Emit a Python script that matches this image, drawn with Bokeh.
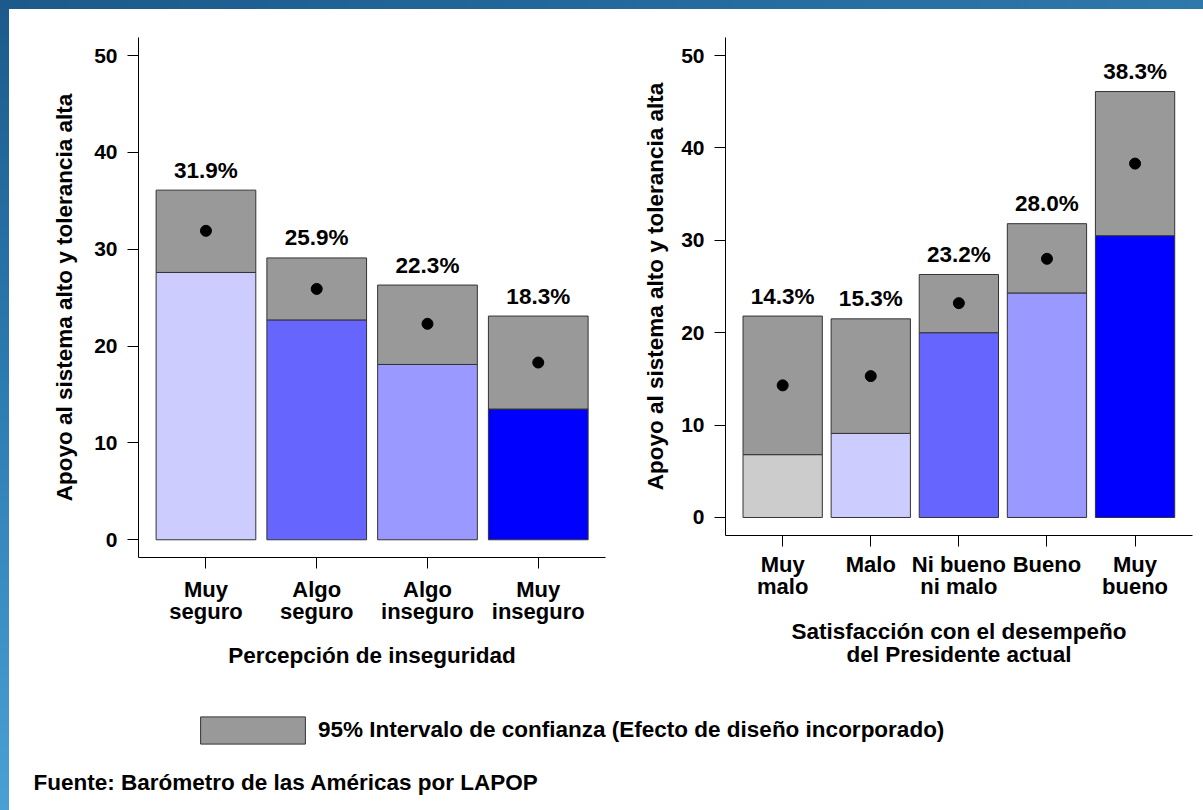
from bokeh.plotting import figure
from bokeh.layouts import column, row
from bokeh.models import Range1d, FixedTicker, Legend, LegendItem, Label, ColumnDataSource, Spacer
from bokeh.core.properties import value
from bokeh.embed import file_html
from bokeh.resources import INLINE

FONT = "Liberation Sans"

# ---- data: left panel ----
cats_left = ["Muy seguro", "Algo seguro", "Algo inseguro", "Muy inseguro"]
ticks_left = ["Muy\nseguro", "Algo\nseguro", "Algo\ninseguro", "Muy\ninseguro"]
mean_left = [31.9, 25.9, 22.3, 18.3]
lo_left = [27.6, 22.7, 18.1, 13.5]
hi_left = [36.1, 29.1, 26.3, 23.1]
colors_left = ["#CCCCFF", "#6666FF", "#9999FF", "#0000FF"]
xlabel_left = "Percepción de inseguridad"

# ---- data: right panel ----
cats_right = ["Muy malo", "Malo", "Ni bueno ni malo", "Bueno", "Muy bueno"]
ticks_right = ["Muy\nmalo", "Malo", "Ni bueno\nni malo", "Bueno", "Muy\nbueno"]
mean_right = [14.3, 15.3, 23.2, 28.0, 38.3]
lo_right = [6.8, 9.1, 20.0, 24.3, 30.5]
hi_right = [21.8, 21.5, 26.3, 31.8, 46.1]
colors_right = ["#CCCCCC", "#CCCCFF", "#6666FF", "#9999FF", "#0000FF"]
xlabel_right = "Satisfacción con el desempeño\ndel Presidente actual"

y_ticks = [0, 10, 20, 30, 40, 50]
ylabel = "Apoyo al sistema alto y tolerancia alta"
legend_label = "95% Intervalo de confianza (Efecto de diseño incorporado)"
source_text = "Fuente: Barómetro de las Américas por LAPOP"
GRAY = "#999999"
EDGE = "#333333"


def make_panel(cats, ticks, mean, lo, hi, colors, xlabel, xr, yr,
               fw, fh, bl, br, bt, bb, xlab_standoff, xtitle_standoff,
               ytitle_standoff):
    xs = list(range(1, len(cats) + 1))
    src = ColumnDataSource(dict(
        x=xs, mean=mean, lo=lo, hi=hi, color=colors,
        lab=[f"{m:.1f}%" for m in mean]))
    p = figure(frame_width=fw, frame_height=fh,
               min_border_left=bl, min_border_right=br,
               min_border_top=bt, min_border_bottom=bb,
               x_range=Range1d(*xr), y_range=Range1d(*yr),
               output_backend="svg", toolbar_location=None)
    p.outline_line_color = None
    p.grid.visible = False
    p.background_fill_color = "white"
    p.border_fill_color = "white"

    p.vbar(x="x", bottom=0, top="lo", width=0.9, source=src,
           fill_color="color", line_color=EDGE, line_width=1)
    p.vbar(x="x", bottom="lo", top="hi", width=0.9, source=src,
           fill_color=GRAY, line_color=EDGE, line_width=1)
    p.scatter(x="x", y="mean", size=11, source=src,
              fill_color="black", line_color="black")
    p.text(x="x", y="hi", text="lab", source=src, y_offset=-20,
           text_font=value(FONT), text_font_style="bold",
           text_font_size="22.5px", text_align="center",
           text_baseline="alphabetic", text_color="black")

    for ax in (p.xaxis[0], p.yaxis[0]):
        ax.axis_line_color = "black"
        ax.axis_line_width = 1
        ax.major_tick_line_color = "black"
        ax.major_tick_in = 0
        ax.major_tick_out = 11
        ax.minor_tick_line_color = None
        ax.major_label_text_font = FONT
        ax.major_label_text_font_style = "bold"
        ax.major_label_text_color = "black"
        ax.axis_label_text_font = FONT
        ax.axis_label_text_font_style = "bold"
        ax.axis_label_text_color = "black"

    xa = p.xaxis[0]
    xa.ticker = FixedTicker(ticks=xs)
    xa.major_label_overrides = {x: t for x, t in zip(xs, ticks)}
    xa.major_label_text_font_size = "22px"
    xa.major_label_text_line_height = 0.9
    xa.major_label_standoff = xlab_standoff
    xa.axis_label = xlabel
    xa.axis_label_text_font_size = "22.5px"
    xa.axis_label_text_line_height = 0.92
    xa.axis_label_standoff = xtitle_standoff

    ya = p.yaxis[0]
    ya.ticker = FixedTicker(ticks=y_ticks)
    ya.major_label_text_font_size = "21px"
    ya.major_label_standoff = 10
    ya.major_label_orientation = "horizontal"
    ya.axis_label = ylabel
    ya.axis_label_text_font_size = "22.5px"
    ya.axis_label_standoff = ytitle_standoff
    return p


p1 = make_panel(cats_left, ticks_left, mean_left, lo_left, hi_left, colors_left,
                xlabel_left, (0.391, 4.607), (-1.83, 51.86),
                467, 520, 129, 25, 28, 123, 8, 16, 14)
p2 = make_panel(cats_right, ticks_right, mean_right, lo_right, hi_right, colors_right,
                xlabel_right, (0.351, 5.652), (-1.95, 51.95),
                467, 498, 95, 11, 28, 145, 5, 17, 10)

# ---- footer with legend and source ----
foot = figure(width=1194, height=130, x_axis_type=None, y_axis_type=None,
              x_range=Range1d(0, 1), y_range=Range1d(0, 1),
              min_border=0, output_backend="svg", toolbar_location=None)
foot.outline_line_color = None
foot.grid.visible = False
foot.border_fill_color = "white"
foot.background_fill_color = "white"
nan = float("nan")
r_ci = foot.vbar(x=[nan], top=[nan], width=1, fill_color=GRAY, line_color=EDGE)
leg = Legend(items=[LegendItem(label=legend_label, renderers=[r_ci])],
             location=(178, 63), glyph_width=131, glyph_height=34,
             padding=0, margin=0, spacing=0, label_standoff=0,
             border_line_color=None, background_fill_alpha=0,
             label_text_font=FONT, label_text_font_style="bold",
             label_text_font_size="22.5px", label_text_color="black")
foot.add_layout(leg, "center")
foot.add_layout(Label(x=24, y=28, x_units="screen", y_units="screen",
                      text=source_text, text_font=FONT, text_font_style="bold",
                      text_font_size="22.5px", text_baseline="middle",
                      text_color="black"))

left_strip = Spacer(width=9, height=810,
                    styles={"background": "linear-gradient(180deg, #1c5a8b 0%, #2d7db3 50%, #4aa0d4 100%)"})
top_strip = Spacer(width=1194, height=9,
                   styles={"background": "linear-gradient(90deg, #1c5a8b 0%, #23699b 50%, #2f78aa 100%)"})
body = column(top_strip, row(p1, p2, styles={"background": "white"}), foot,
              styles={"background": "white"})
root = row(left_strip, body)

open("out.html", "w").write(file_html(root, INLINE))
